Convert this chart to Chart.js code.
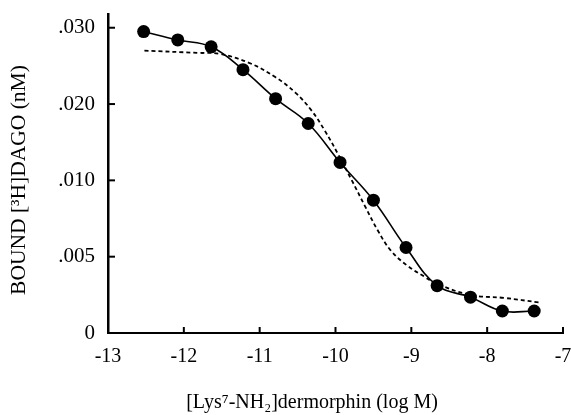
<!DOCTYPE html>
<html>
<head>
<meta charset="utf-8">
<script src="https://cdn.jsdelivr.net/npm/chart.js@4"></script>
<style>
html,body{margin:0;padding:0;background:#fff;}
#wrap{width:571px;height:415px;position:relative;}
</style>
</head>
<body>
<div id="wrap"><canvas id="c" width="571" height="415"></canvas></div>
<script>
// log concentration (log M) of measured points
const logConc = [-12.53, -12.08, -11.64, -11.22, -10.79, -10.36, -9.94, -9.50, -9.07, -8.66, -8.22, -7.80, -7.38];
// bound [3H]DAGO (nM)
const bound = [0.0295, 0.0284, 0.0275, 0.0245, 0.0207, 0.01745, 0.01235, 0.0087, 0.0056, 0.0031, 0.00235, 0.00144, 0.00144];
// dashed curve (single-site fit)
const fitX = [-12.52, -11.80, -11.54, -11.14, -10.79, -10.53, -10.32, -10.14, -9.97, -9.79, -9.61, -9.44, -9.27, -9.05, -8.83, -8.70, -8.23, -7.78, -7.31];
const fitY = [0.0270, 0.0267, 0.0266, 0.0254, 0.0235, 0.0215, 0.0192, 0.0165, 0.0135, 0.0101, 0.0083, 0.0067, 0.0054, 0.0044, 0.0037, 0.0033, 0.0025, 0.0023, 0.0020];
// y tick labels (axis is evenly spaced between these values)
const yTickValues = [0, 0.005, 0.010, 0.020, 0.030];
const yTickLabels = ['0', '.005', '.010', '.020', '.030'];
const xTicks = [-13, -12, -11, -10, -9, -8, -7];
const xTitle = '[Lys\u2077-NH\u2082]dermorphin (log M)';
const yTitle = 'BOUND [\u00B3H]DAGO (nM)';

function toPos(v) {
  for (let i = 0; i < yTickValues.length - 1; i++) {
    const a = yTickValues[i], b = yTickValues[i + 1];
    if (v <= b || i === yTickValues.length - 2) return i + (v - a) / (b - a);
  }
}

const FONT = "'Liberation Serif', 'Times New Roman', serif";

const extras = {
  id: 'extras',
  afterDraw(chart) {
    const ctx = chart.ctx, xs = chart.scales.x, ys = chart.scales.y;
    ctx.save();
    ctx.strokeStyle = '#000';
    ctx.lineWidth = 2;
    const bottom = ys.getPixelForValue(0), left = xs.getPixelForValue(-13);
    xTicks.forEach(v => {
      const px = xs.getPixelForValue(v);
      ctx.beginPath(); ctx.moveTo(px, bottom); ctx.lineTo(px, bottom - 6); ctx.stroke();
    });
    yTickValues.forEach((v, i) => {
      const py = ys.getPixelForValue(i);
      ctx.beginPath(); ctx.moveTo(left, py); ctx.lineTo(left + 7, py); ctx.stroke();
    });
    // x axis title
    ctx.fillStyle = '#000';
    ctx.font = "20px " + FONT;
    ctx.textAlign = 'center';
    ctx.textBaseline = 'middle';
    ctx.fillText(xTitle, 312, 403);
    // y axis title
    ctx.translate(19, 180);
    ctx.rotate(-Math.PI / 2);
    ctx.font = "21.5px " + FONT;
    ctx.fillText(yTitle, 0, 0);
    ctx.restore();
  }
};

new Chart(document.getElementById('c'), {
  type: 'scatter',
  data: {
    datasets: [
      {
        data: logConc.map((x, i) => ({ x: x, y: toPos(bound[i]) })),
        showLine: true,
        borderColor: '#000',
        borderWidth: 1.6,
        backgroundColor: '#000',
        pointRadius: 6.5,
        pointBackgroundColor: '#000',
        pointBorderWidth: 0,
        tension: 0.4,
        order: 0
      },
      {
        data: fitX.map((x, i) => ({ x: x, y: toPos(fitY[i]) })),
        showLine: true,
        borderColor: '#000',
        borderWidth: 1.8,
        borderDash: [4, 3],
        pointRadius: 0,
        tension: 0.4,
        order: 1
      }
    ]
  },
  options: {
    responsive: false,
    animation: false,
    devicePixelRatio: 1,
    layout: { padding: { left: 0, right: 8, top: 14, bottom: 0 } },
    plugins: { legend: { display: false }, tooltip: { enabled: false } },
    scales: {
      x: {
        type: 'linear', min: -13, max: -7,
        afterBuildTicks: s => { s.ticks = xTicks.map(v => ({ value: v })); },
        afterFit: s => { s.height = 82; s.paddingRight = 0; s.paddingLeft = 0; },
        grid: { display: false, drawTicks: false },
        border: { display: true, color: '#000', width: 2 },
        ticks: { color: '#000', font: { family: FONT, size: 20 }, padding: 12, maxRotation: 0 },
        title: { display: false }
      },
      y: {
        type: 'linear', min: 0, max: 4.18,
        afterBuildTicks: s => { s.ticks = yTickValues.map((v, i) => ({ value: i })); },
        afterFit: s => { s.width = 108; s.paddingTop = 0; s.paddingBottom = 0; },
        grid: { display: false, drawTicks: false },
        border: { display: true, color: '#000', width: 2.5 },
        ticks: { color: '#000', font: { family: FONT, size: 21 }, padding: 13,
                  callback: (v) => yTickLabels[Math.round(v)] },
        title: { display: false }
      }
    }
  },
  plugins: [extras]
});
</script>
</body>
</html>
